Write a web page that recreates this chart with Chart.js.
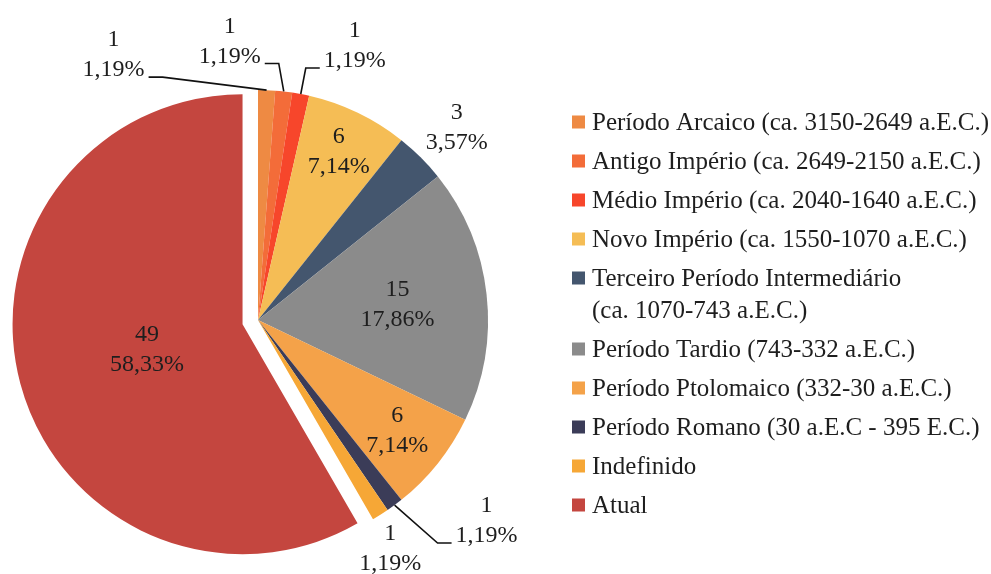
<!DOCTYPE html>
<html lang="pt">
<head>
<meta charset="utf-8">
<title>Peças por período</title>
<script src="https://cdn.jsdelivr.net/npm/chart.js@4.4.1/dist/chart.umd.min.js"></script>
<style>
  html, body { margin: 0; padding: 0; background: #fff; }
  #wrap { width: 991px; height: 574px; position: relative; }
</style>
</head>
<body>
<div id="wrap"><canvas id="periodos"></canvas></div>
<script>
// períodos (a legenda quebra a linha no "\n")
const periodos = [
  'Período Arcaico (ca. 3150-2649 a.E.C.)',
  'Antigo Império (ca. 2649-2150 a.E.C.)',
  'Médio Império (ca. 2040-1640 a.E.C.)',
  'Novo Império (ca. 1550-1070 a.E.C.)',
  'Terceiro Período Intermediário\n(ca. 1070-743 a.E.C.)',
  'Período Tardio (743-332 a.E.C.)',
  'Período Ptolomaico (332-30 a.E.C.)',
  'Período Romano (30 a.E.C - 395 E.C.)',
  'Indefinido',
  'Atual'
];
const quantidades = [1, 1, 1, 6, 3, 15, 6, 1, 1, 49];
const cores = ['#ee8a43', '#f36c39', '#f7462b', '#f5bd55', '#44566e',
               '#8b8b8b', '#f4a249', '#3b3c58', '#f6a736', '#c4463f'];

// fatia "Atual" destacada do resto
const FATIA_DESTACADA = 9;
const AFASTAMENTO = 16;

// onde fica cada rótulo: k = fração do raio (dentro da fatia),
// dx/dy = deslocamento a partir da borda da fatia (fora), com ou sem linha guia
const rotulos = [
  { dx: -153, dy: -35, guia: 'dir' },
  { dx: -54, dy: -50, guia: 'dir' },
  { dx: 54, dy: -48, guia: 'esq' },
  { k: 0.81 },
  { dx: 36, dy: -30 },
  { k: 0.61 },
  { k: 0.775 },
  { dx: 92, dy: 16, guia: 'esq' },
  { dx: 10, dy: 34 },
  { k: 0.43 }
];

const FONTE = '24px "Liberation Serif", "Times New Roman", serif';
const FONTE_LEGENDA = '25px "Liberation Serif", "Times New Roman", serif';
const COR_TEXTO = '#1e1e1e';

function fmtPct(v, total) {
  return (v / total * 100).toFixed(2).replace('.', ',') + '%';
}

const rotulosPlugin = {
  id: 'rotulos',
  beforeDatasetsDraw(chart) {
    // empurra a fatia destacada para fora, na direção do seu ângulo médio
    const arc = chart.getDatasetMeta(0).data[FATIA_DESTACADA];
    if (!arc || arc.$destacada) return;
    const meio = (arc.startAngle + arc.endAngle) / 2;
    arc.x += Math.cos(meio) * AFASTAMENTO;
    arc.y += Math.sin(meio) * AFASTAMENTO;
    arc.$destacada = true;
  },
  afterDatasetsDraw(chart) {
    const ctx = chart.ctx;
    const arcs = chart.getDatasetMeta(0).data;
    const valores = chart.data.datasets[0].data;
    const total = valores.reduce((a, b) => a + b, 0);
    ctx.save();
    ctx.font = FONTE;
    ctx.fillStyle = COR_TEXTO;
    ctx.strokeStyle = '#111';
    ctx.lineWidth = 1.6;
    ctx.textAlign = 'center';
    ctx.textBaseline = 'middle';
    arcs.forEach((arc, i) => {
      const p = arc.getProps(['x', 'y', 'startAngle', 'endAngle', 'outerRadius'], true);
      const meio = (p.startAngle + p.endAngle) / 2;
      const r = rotulos[i];
      let cx, cy;
      const bx = p.x + Math.cos(meio) * p.outerRadius;
      const by = p.y + Math.sin(meio) * p.outerRadius;
      if (r.k !== undefined) {
        cx = p.x + Math.cos(meio) * p.outerRadius * r.k;
        cy = p.y + Math.sin(meio) * p.outerRadius * r.k;
      } else {
        cx = bx + r.dx;
        cy = by + r.dy;
      }
      const linha1 = String(valores[i]);
      const linha2 = fmtPct(valores[i], total);
      ctx.fillText(linha1, cx, cy - 15);
      ctx.fillText(linha2, cx, cy + 15);
      if (r.guia) {
        const meiaLarg = ctx.measureText(linha2).width / 2;
        const sx = r.guia === 'dir' ? cx + meiaLarg + 4 : cx - meiaLarg - 4;
        const sy = cy + 22;
        const ex = r.guia === 'dir' ? sx + 14 : sx - 14;
        ctx.beginPath();
        ctx.moveTo(sx, sy);
        ctx.lineTo(ex, sy);
        ctx.lineTo(bx, by);
        ctx.stroke();
      }
    });
    ctx.restore();
  },
  afterDraw(chart) {
    // legenda à direita
    const ctx = chart.ctx;
    const labels = chart.data.labels;
    const fundo = chart.data.datasets[0].backgroundColor;
    const x0 = 572, tam = 13, xTexto = 592, alturaLinha = 32, espaco = 7;
    let y = 122;
    ctx.save();
    ctx.font = FONTE_LEGENDA;
    ctx.textAlign = 'left';
    ctx.textBaseline = 'middle';
    labels.forEach((lab, i) => {
      const linhas = lab.split('\n');
      ctx.fillStyle = fundo[i];
      ctx.fillRect(x0, y - tam / 2, tam, tam);
      ctx.fillStyle = COR_TEXTO;
      linhas.forEach((t, j) => ctx.fillText(t, xTexto, y + j * alturaLinha + 1));
      y += linhas.length * alturaLinha + espaco;
    });
    ctx.restore();
  }
};

new Chart(document.getElementById('periodos'), {
  type: 'pie',
  data: {
    labels: periodos,
    datasets: [{
      data: quantidades,
      backgroundColor: cores,
      borderWidth: 0,
      hoverOffset: 0
    }]
  },
  options: {
    responsive: true,
    maintainAspectRatio: false,
    animation: false,
    events: [],
    layout: { padding: { left: 28, top: 90, right: 503, bottom: 24 } },
    plugins: {
      legend: { display: false },
      tooltip: { enabled: false }
    }
  },
  plugins: [rotulosPlugin]
});
</script>
</body>
</html>
